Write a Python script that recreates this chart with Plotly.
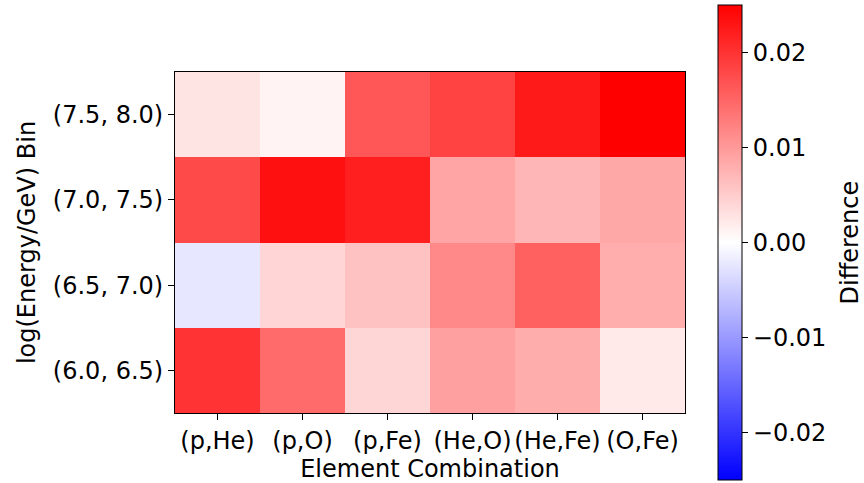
import plotly.graph_objects as go

combos = ["(p,He)", "(p,O)", "(p,Fe)", "(He,O)", "(He,Fe)", "(O,Fe)"]
energy_bins = ["(6.0, 6.5)", "(6.5, 7.0)", "(7.0, 7.5)", "(7.5, 8.0)"]

row_60_65 = [0.0200, 0.0146, 0.0040, 0.0093, 0.0081, 0.0022]
row_65_70 = [-0.0024, 0.0041, 0.0060, 0.0117, 0.0156, 0.0080]
row_70_75 = [0.0177, 0.0234, 0.0220, 0.0088, 0.0072, 0.0085]
row_75_80 = [0.0026, 0.0012, 0.0165, 0.0185, 0.0225, 0.0250]

z = [row_60_65, row_65_70, row_70_75, row_75_80]
vmax = 0.025
cb_ticks = [-0.02, -0.01, 0.0, 0.01, 0.02]

W, H = 864, 483
FONT = "DejaVu Sans"
FS = 24

fig = go.Figure(go.Heatmap(
    z=z, x=combos, y=energy_bins,
    zmin=-vmax, zmax=vmax,
    colorscale=[[0, "rgb(0,0,255)"], [0.5, "rgb(255,255,255)"], [1, "rgb(255,0,0)"]],
    colorbar=dict(
        x=718 / W, xanchor="left", xpad=0, ypad=0,
        y=1 - 242.5 / H, yanchor="middle",
        lenmode="pixels", len=475,
        thickness=24, thicknessmode="pixels",
        outlinewidth=1, outlinecolor="black",
        ticks="outside", ticklen=6, tickwidth=1, tickcolor="black",
        tickvals=cb_ticks, tickformat=".2f",
        tickfont=dict(family=FONT, size=FS, color="black"),
    ),
))

fig.add_annotation(
    text="Difference", x=849 / W, y=1 - 242.5 / H, xref="paper", yref="paper",
    textangle=-90, showarrow=False, xanchor="center", yanchor="middle",
    font=dict(family=FONT, size=FS, color="black"),
)

fig.update_layout(
    width=W, height=H,
    margin=dict(l=0, r=0, t=0, b=0),
    paper_bgcolor="white", plot_bgcolor="white",
    font=dict(family=FONT, size=FS, color="black"),
    xaxis=dict(
        domain=[175 / W, 685 / W],
        title=dict(text="Element Combination", standoff=4,
                   font=dict(family=FONT, size=FS, color="black")),
        showline=True, mirror=True, linecolor="black", linewidth=1,
        ticks="outside", ticklen=6, tickwidth=1, tickcolor="black",
        tickfont=dict(family=FONT, size=FS, color="black"),
        automargin=False, showgrid=False, zeroline=False,
    ),
    yaxis=dict(
        domain=[1 - 413 / H, 1 - 72 / H],
        title=dict(text="log(Energy/GeV) Bin", standoff=10,
                   font=dict(family=FONT, size=FS, color="black")),
        showline=True, mirror=True, linecolor="black", linewidth=1,
        ticks="outside", ticklen=6, tickwidth=1, tickcolor="black",
        tickfont=dict(family=FONT, size=FS, color="black"),
        automargin=False, showgrid=False, zeroline=False,
    ),
)

fig.write_html("out.html")
